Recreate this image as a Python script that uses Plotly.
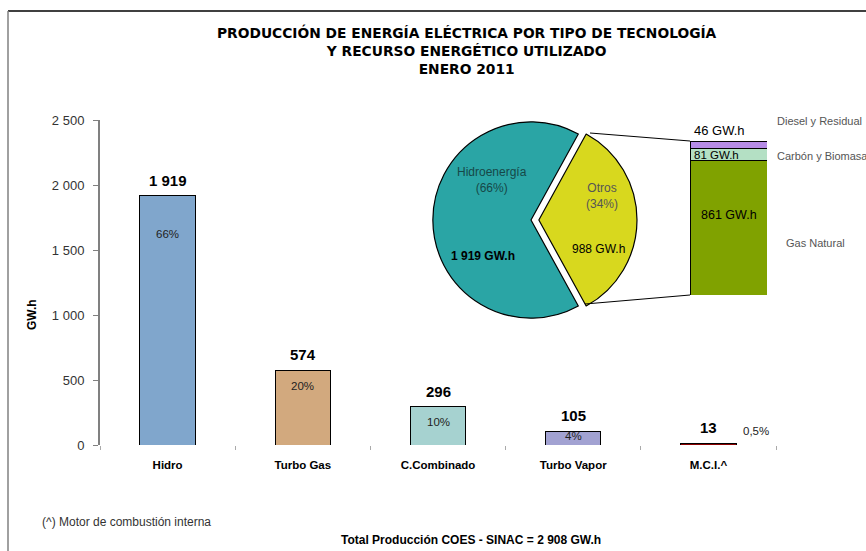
import plotly.graph_objects as go

# ---------------- data ----------------
categories = ["Hidro", "Turbo Gas", "C.Combinado", "Turbo Vapor", "M.C.I.^"]
production = [1919, 574, 296, 105, 13]
shares = ["66%", "20%", "10%", "4%", "0,5%"]

pie_labels = ["Otros", "Hidroenergía"]
pie_values = [988, 1919]
pie_shares = ["34%", "66%"]

otros_labels = ["Gas Natural", "Carbón y Biomasa", "Diesel y Residual"]
otros_values = [861, 81, 46]

y_ticks = [0, 500, 1000, 1500, 2000, 2500]
total = 2908

# ---------------- style ----------------
W, H = 866, 551
ML, MR, MT, MB = 100, 90, 90, 106
PW = W - ML - MR
PH = H - MT - MB

def px(x):
    return (x - ML) / PW

def py(y):
    return (H - MB - y) / PH

FONT = "Liberation Sans, Arial, sans-serif"
TFONT = "DejaVu Sans, Liberation Sans, sans-serif"
bar_colors = ["#80a6cc", "#d2a97e", "#a6d2d0", "#a2a2d2", "#8b0000"]
pie_colors = ["#d8d81e", "#2aa5a5"]
otros_colors = ["#80a200", "#b4e0c4", "#b68ce6"]

def fmt(v):
    return f"{v:,}".replace(",", " ")

def note(x, y, text, size=12, color="#000000", family=FONT, xanchor="center", **kw):
    return dict(x=px(x), y=py(y), xref="paper", yref="paper", text=text,
                showarrow=False, xanchor=xanchor, yanchor=kw.pop("yanchor", "middle"),
                font=dict(size=size, color=color, family=family), **kw)

fig = go.Figure()

# main bars
fig.add_trace(go.Bar(
    x=categories, y=production, width=0.41,
    marker=dict(color=bar_colors, line=dict(color="#000000", width=1)),
    showlegend=False, hoverinfo="x+y",
))

# pie
fig.add_trace(go.Pie(
    labels=pie_labels, values=pie_values, sort=False,
    direction="clockwise",
    rotation=90 - 180 * pie_values[0] / sum(pie_values),
    pull=[0.08, 0],
    marker=dict(colors=pie_colors, line=dict(color="#000000", width=1.2)),
    textinfo="none", showlegend=False,
    domain=dict(x=[px(531 - 106), px(531 + 106)], y=[py(220 + 106), py(220 - 106)]),
))

# stacked Otros breakdown bar
for lab, val, col in zip(otros_labels, otros_values, otros_colors):
    fig.add_trace(go.Bar(
        x=[0], y=[val], width=1, name=lab,
        marker=dict(color=col, line=dict(color="#000000", width=1)),
        xaxis="x2", yaxis="y2", showlegend=False,
    ))

annotations = []
# value labels
for c, v in zip(categories, production):
    annotations.append(dict(x=c, y=v, xref="x", yref="y", text=f"<b>{fmt(v)}</b>",
                            showarrow=False, xanchor="center", yanchor="bottom", yshift=5,
                            font=dict(size=15, color="#000000", family=FONT)))
# percentage labels
pct_offsets = [-38, -16, -15, -5]
for c, v, s, o in zip(categories[:4], production[:4], shares[:4], pct_offsets):
    annotations.append(dict(x=c, y=v, xref="x", yref="y", text=s, showarrow=False,
                            xanchor="center", yanchor="middle", yshift=o,
                            font=dict(size=11.5, color="#222222", family=FONT)))
annotations.append(dict(x=categories[4], y=production[4], xref="x", yref="y",
                        text=shares[4], showarrow=False, xanchor="center", yanchor="middle",
                        xshift=48, yshift=12,
                        font=dict(size=11.5, color="#222222", family=FONT)))

# pie labels
annotations += [
    note(492, 180, f"Hidroenergía<br>({pie_shares[1]})", size=12, color="#164848"),
    note(483, 256, f"<b>{fmt(pie_values[1])} GW.h</b>", size=12),
    note(602, 196, f"Otros<br>({pie_shares[0]})", size=12, color="#555555"),
    note(598, 249, f"{fmt(pie_values[0])} GW.h", size=12),
]

# stacked bar labels
annotations += [
    note(719, 130, f"{otros_values[2]} GW.h", size=13),
    note(716, 155, f"{otros_values[1]} GW.h", size=11.5),
    note(729, 215, f"{otros_values[0]} GW.h", size=12.5),
    note(775, 121, otros_labels[2], size=11, color="#555555", xanchor="left"),
    note(775, 156, otros_labels[1], size=11, color="#555555", xanchor="left"),
    note(784, 243, otros_labels[0], size=11, color="#555555", xanchor="left"),
]

# title, axis title, footnotes
annotations += [
    note(467, 22, "<b>PRODUCCIÓN DE ENERGÍA ELÉCTRICA POR TIPO DE TECNOLOGÍA<br>"
                  "Y RECURSO ENERGÉTICO UTILIZADO<br>ENERO 2011</b>",
         size=13.8, family=TFONT, yanchor="top", align="center"),
    note(32, 315, "<b>GW.h</b>", size=12, textangle=-90),
    note(40, 522, "(^) Motor de combustión interna", size=12, color="#333333", xanchor="left"),
    note(471, 540, f"<b>Total Producción COES - SINAC = {fmt(total)} GW.h</b>", size=12),
]

shapes = [
    # connector lines pie -> stacked bar
    dict(type="line", xref="paper", yref="paper", x0=px(590), y0=py(133), x1=px(690), y1=py(141),
         line=dict(color="#000000", width=1)),
    dict(type="line", xref="paper", yref="paper", x0=px(585), y0=py(304), x1=px(690), y1=py(295),
         line=dict(color="#000000", width=1)),
    # frame
    dict(type="line", xref="paper", yref="paper", x0=px(8), y0=py(11), x1=px(866), y1=py(11),
         line=dict(color="#000000", width=1.5)),
    dict(type="line", xref="paper", yref="paper", x0=px(8), y0=py(11), x1=px(8), y1=py(551),
         line=dict(color="#808080", width=1.5)),
]

fig.update_layout(
    width=W, height=H,
    margin=dict(l=ML, r=MR, t=MT, b=MB, autoexpand=False),
    paper_bgcolor="#ffffff", plot_bgcolor="#ffffff",
    separators=", ",
    barmode="stack",
    font=dict(family=FONT, color="#000000"),
    xaxis=dict(type="category", domain=[0, 1], showline=False, showgrid=False,
               tickson="boundaries", ticks="outside", ticklen=4, tickcolor="#aaaaaa",
               tickvals=categories, ticktext=[f"<b>{c}</b>" for c in categories],
               tickfont=dict(size=11.5, color="#000000", family=FONT),
               ticklabelstandoff=11,
               range=[-0.5, 4.5], fixedrange=True, zeroline=False),
    yaxis=dict(domain=[0, 325 / PH], range=[0, 2500], tickvals=y_ticks,
               tickformat=",d", showgrid=False, zeroline=False,
               showline=True, linecolor="#808080", linewidth=2,
               ticks="outside", ticklen=5, tickcolor="#808080",
               ticklabelstandoff=6, fixedrange=True,
               tickfont=dict(size=13, color="#333333", family=FONT)),
    xaxis2=dict(domain=[px(690), px(767)], range=[-0.5, 0.5], visible=False,
                anchor="y2", fixedrange=True),
    yaxis2=dict(domain=[py(295), py(141)], range=[0, sum(otros_values)], visible=False,
                anchor="x2", fixedrange=True),
    annotations=annotations,
    shapes=shapes,
)

fig.write_html("out.html", config={"displayModeBar": False},
               post_script="document.body.style.margin='0';document.body.style.overflow='hidden';")
